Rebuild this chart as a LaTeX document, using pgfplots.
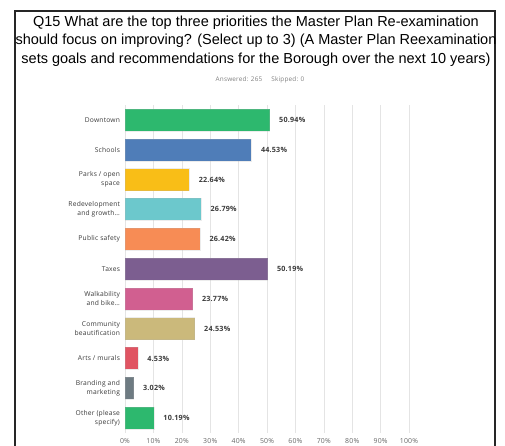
\documentclass[border=0pt]{standalone}
\usepackage{fontspec}
\setmainfont{Liberation Sans}
\newfontfamily\labfont[LetterSpace=3]{Open Sans}
\usepackage{pgfplots}
\pgfplotsset{compat=1.18}

\definecolor{cDown}{HTML}{2DB86E}
\definecolor{cSchool}{HTML}{4F7DB8}
\definecolor{cPark}{HTML}{F9BE17}
\definecolor{cRedev}{HTML}{6CC8CC}
\definecolor{cSafe}{HTML}{F78C55}
\definecolor{cTax}{HTML}{7C5E90}
\definecolor{cWalk}{HTML}{D15F90}
\definecolor{cBeaut}{HTML}{CBB97B}
\definecolor{cArts}{HTML}{E05462}
\definecolor{cBrand}{HTML}{6E7B82}
\definecolor{cGrid}{HTML}{E4E4E4}
\definecolor{cTxt}{HTML}{3A3A3A}

\begin{document}
\begin{tikzpicture}
\useasboundingbox (0pt,0pt) rectangle (505pt,-446pt);
% outer frame, open at the bottom
\draw[line width=2pt, color=black!85] (15pt,-460pt) -- (15pt,-11pt) -- (495pt,-11pt) -- (495pt,-460pt);
% title
\node[align=center, font=\fontsize{14.5}{18.4}\selectfont, inner sep=0pt] at (256pt,-41pt)
  {Q15 What are the top three priorities the Master Plan Re-examination\\
   should focus on improving? (Select up to 3) (A Master Plan Reexamination\\
   sets goals and recommendations for the Borough over the next 10 years)};
\node[font=\labfont\fontsize{6.4}{7}\selectfont, text=black!50, inner sep=0pt] at (260pt,-80pt)
  {Answered: 265\hspace{9pt}Skipped: 0};

\begin{axis}[
  at={(125pt,-433pt)}, anchor=south west,
  scale only axis, width=284pt, height=328pt,
  /pgf/number format/assume math mode=true,
  xbar, bar width=22pt, bar shift=0pt,
  xmin=0, xmax=100, ymin=-0.5, ymax=10.5, y dir=reverse,
  axis line style={draw=none},
  major tick length=0pt,
  xmajorgrids, grid style={color=cGrid, line width=0.6pt},
  xtick={0,10,...,100},
  xticklabel={\pgfmathprintnumber{\tick}\%},
  xticklabel style={font=\labfont\fontsize{6.9}{7}\selectfont, text=black!60, yshift=-2pt},
  ytick={0,...,10},
  yticklabels={Downtown, Schools, {Parks / open\\space}, {Redevelopment\\and growth\ldots},
    Public safety, Taxes, {Walkability\\and bike\ldots}, {Community\\beautification},
    Arts / murals, {Branding and\\marketing}, {Other (please\\specify)}},
  yticklabel style={font=\labfont\fontsize{6.7}{9}\selectfont, align=right, text=cTxt, xshift=-1.5pt},
  nodes near coords={\pgfmathprintnumber[fixed,precision=2,fixed zerofill]{\pgfplotspointmeta}\%},
  nodes near coords style={font=\labfont\bfseries\fontsize{7.2}{8}\selectfont, text=cTxt, anchor=west, xshift=6pt},
  point meta=explicit symbolic,
  every axis plot/.append style={draw=white!70!black, draw opacity=0.25},
]
\addplot[fill=cDown]   coordinates {(50.94,0) [50.94]};
\addplot[fill=cSchool] coordinates {(44.53,1) [44.53]};
\addplot[fill=cPark]   coordinates {(22.64,2) [22.64]};
\addplot[fill=cRedev]  coordinates {(26.79,3) [26.79]};
\addplot[fill=cSafe]   coordinates {(26.42,4) [26.42]};
\addplot[fill=cTax]    coordinates {(50.19,5) [50.19]};
\addplot[fill=cWalk]   coordinates {(23.77,6) [23.77]};
\addplot[fill=cBeaut]  coordinates {(24.53,7) [24.53]};
\addplot[fill=cArts]   coordinates {(4.53,8) [4.53]};
\addplot[fill=cBrand]  coordinates {(3.02,9) [3.02]};
\addplot[fill=cDown]   coordinates {(10.19,10) [10.19]};
\end{axis}
\end{tikzpicture}
\end{document}
